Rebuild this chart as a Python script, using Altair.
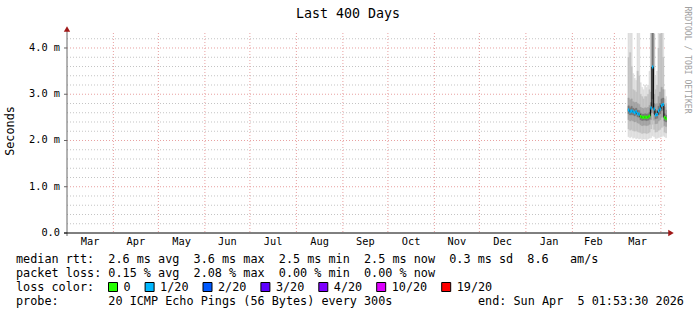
import altair as alt
import pandas as pd
from datetime import datetime, timezone

FONT = "DejaVu Sans Mono"
NB = "\u00a0"

# ---------------- data ----------------
title_text = "Last 400 Days"
unit_text = "Seconds"
watermark_text = "RRDTOOL / TOBI OETIKER"

range_start = "2025-03-01T01:53:30"
range_end = "2026-04-05T01:53:30"

month_starts = ["2025-03-01", "2025-04-01", "2025-05-01", "2025-06-01", "2025-07-01",
                "2025-08-01", "2025-09-01", "2025-10-01", "2025-11-01", "2025-12-01",
                "2026-01-01", "2026-02-01", "2026-03-01", "2026-04-01"]
month_names = ["Mar", "Apr", "May", "Jun", "Jul", "Aug", "Sep", "Oct", "Nov", "Dec",
               "Jan", "Feb", "Mar"]

days = ["2026-03-10", "2026-03-11", "2026-03-12", "2026-03-13", "2026-03-14", "2026-03-15",
        "2026-03-16", "2026-03-17", "2026-03-18", "2026-03-19", "2026-03-20", "2026-03-21",
        "2026-03-22", "2026-03-23", "2026-03-24", "2026-03-25", "2026-03-26", "2026-03-27",
        "2026-03-28", "2026-03-29", "2026-03-30", "2026-03-31", "2026-04-01", "2026-04-02",
        "2026-04-03", "2026-04-04"]
median = [2.66, 2.62, 2.64, 2.62, 2.60, 2.62, 2.58, 2.57, 2.52, 2.50, 2.50, 2.51, 2.50,
          2.51, 2.53, 2.70, 3.59, 2.68, 2.55, 2.56, 2.64, 2.68, 2.76, 2.78, 2.50, 2.47]
loss = ["1/20", "1/20", "1/20", "1/20", "1/20", "1/20", "1/20", "1/20", "0", "0", "0", "0", "0",
        "0", "0", "1/20", "1/20", "1/20", "1/20", "1/20", "1/20", "1/20", "1/20", "1/20", "0", "0"]
ping_min = [2.08, 2.06, 2.08, 2.05, 2.06, 2.04, 2.05, 2.03, 2.04, 2.02, 2.03, 2.03, 2.02,
            2.04, 2.05, 2.06, 2.10, 2.08, 2.04, 2.05, 2.06, 2.07, 2.08, 2.10, 2.08, 2.06]
ping_p10 = [2.25, 2.22, 2.24, 2.21, 2.20, 2.21, 2.19, 2.18, 2.17, 2.15, 2.16, 2.16, 2.15,
            2.16, 2.18, 2.25, 2.35, 2.24, 2.18, 2.19, 2.22, 2.24, 2.28, 2.30, 2.18, 2.16]
ping_p25 = [2.45, 2.42, 2.44, 2.42, 2.40, 2.41, 2.38, 2.37, 2.34, 2.32, 2.33, 2.33, 2.32,
            2.33, 2.35, 2.45, 2.60, 2.44, 2.36, 2.37, 2.42, 2.45, 2.50, 2.52, 2.32, 2.30]
ping_p40 = [2.58, 2.55, 2.56, 2.55, 2.53, 2.55, 2.51, 2.50, 2.45, 2.43, 2.44, 2.44, 2.43,
            2.44, 2.46, 2.60, 2.90, 2.58, 2.47, 2.48, 2.55, 2.58, 2.64, 2.66, 2.42, 2.40]
ping_p60 = [2.75, 2.71, 2.74, 2.70, 2.68, 2.70, 2.66, 2.65, 2.59, 2.57, 2.57, 2.58, 2.57,
            2.58, 2.61, 2.82, 4.40, 2.80, 2.64, 2.65, 2.74, 2.80, 2.90, 2.92, 2.58, 2.55]
ping_p75 = [2.92, 2.88, 2.90, 2.84, 2.82, 2.83, 2.80, 2.78, 2.72, 2.70, 2.69, 2.71, 2.70,
            2.72, 2.76, 3.05, 4.60, 3.00, 2.78, 2.80, 2.95, 3.05, 3.15, 3.10, 2.72, 2.66]
ping_p90 = [3.80, 3.90, 3.60, 3.10, 3.08, 3.05, 3.50, 3.40, 3.00, 2.95, 2.90, 2.95, 2.95,
            3.00, 3.10, 4.40, 4.60, 4.30, 3.10, 3.20, 4.00, 4.30, 4.40, 3.80, 2.90, 2.80]
ping_max = [4.60, 4.60, 4.60, 3.45, 3.35, 3.30, 4.60, 4.60, 3.25, 3.15, 3.10, 3.20, 3.15,
            3.20, 3.50, 4.60, 4.60, 4.60, 3.40, 3.50, 4.60, 4.60, 4.60, 4.60, 3.10, 2.95]

y_major = [0.0, 1.0, 2.0, 3.0, 4.0]
y_major_labels = ["0.0", "1.0 m", "2.0 m", "3.0 m", "4.0 m"]
y_minor = [0.2, 0.4, 0.6, 0.8, 1.2, 1.4, 1.6, 1.8, 2.2, 2.4, 2.6, 2.8, 3.2, 3.4, 3.6, 3.8, 4.2]

loss_levels = ["0", "1/20", "2/20", "3/20", "4/20", "10/20", "19/20"]
loss_colors = ["#26ff00", "#00b8ff", "#0059ff", "#5e00ff", "#7e00ff", "#dd00ff", "#ff0000"]

legend_rtt = "median rtt:  2.6 ms avg  3.6 ms max  2.5 ms min  2.5 ms now  0.3 ms sd  8.6   am/s"
legend_loss = "packet loss: 0.15 % avg  2.08 % max  0.00 % min  0.00 % now"
legend_color_head = "loss color:"
legend_probe = "probe:       20 ICMP Echo Pings (56 Bytes) every 300s"
legend_end = "end: Sun Apr  5 01:53:30 2026"

# ---------------- helpers ----------------
DAY = 86400000


def ms(s):
    if "T" not in s:
        s = s + "T00:00:00"
    return int(datetime.fromisoformat(s).replace(tzinfo=timezone.utc).timestamp() * 1000)


W, H = 600, 200
L, T = 67, 33  # plot origin in page pixels
xs = alt.Scale(type="utc", domain=[ms(range_start), ms(range_end)])
ys = alt.Scale(domain=[0, 4.324], nice=False, zero=False)

MAJOR_C = "#e8a0a0"
MINOR_C = "#c4c4c4"
DASH = [1, 2]

layers = []

# minor horizontal grid
layers.append(alt.Chart(pd.DataFrame({"v": y_minor})).mark_rule(
    color=MINOR_C, strokeDash=DASH, strokeWidth=1).encode(
    x=alt.value(0), x2=alt.value(W), y=alt.Y("v:Q", scale=ys, axis=None)))
# major horizontal grid
layers.append(alt.Chart(pd.DataFrame({"v": y_major[1:]})).mark_rule(
    color=MAJOR_C, strokeDash=DASH, strokeWidth=1).encode(
    x=alt.value(0), x2=alt.value(W), y=alt.Y("v:Q", scale=ys, axis=None)))
# y ticks and labels
ydf = pd.DataFrame({"v": y_major, "lab": y_major_labels})
layers.append(alt.Chart(ydf).mark_rule(color="#666", strokeWidth=1).encode(
    x=alt.value(-3), x2=alt.value(0), y=alt.Y("v:Q", scale=ys, axis=None)))
layers.append(alt.Chart(ydf).mark_text(font=FONT, fontSize=10.3, color="#000", align="right",
                                       baseline="middle").encode(
    x=alt.value(-7), y=alt.Y("v:Q", scale=ys, axis=None), text="lab:N"))
# month grid
mdf = pd.DataFrame({"t": [ms(m) for m in month_starts[1:]]})
layers.append(alt.Chart(mdf).mark_rule(color=MAJOR_C, strokeDash=DASH, strokeWidth=1).encode(
    x=alt.X("t:T", scale=xs, axis=None), y=alt.value(0), y2=alt.value(H)))

# smoke
t0 = [ms(d) for d in days]
t1 = [t + DAY for t in t0]
bands = [(ping_min, ping_max, "#dedede"), (ping_p10, ping_p90, "#c2c2c2"),
         (ping_p25, ping_p75, "#a2a2a2"), (ping_p40, ping_p60, "#787878")]
for lo, hi, col in bands:
    bdf = pd.DataFrame({"t0": t0, "t1": t1, "lo": lo, "hi": hi})
    layers.append(alt.Chart(bdf).mark_rect(clip=True, color=col, stroke=col, strokeWidth=0.3).encode(
        x=alt.X("t0:T", scale=xs, axis=None), x2="t1:T",
        y=alt.Y("lo:Q", scale=ys, axis=None), y2="hi:Q"))

# median
medf = pd.DataFrame({"t0": t0, "t1": t1, "med": median, "loss": loss})
layers.append(alt.Chart(medf).mark_line(color="#000", strokeWidth=1, interpolate="step-after",
                                        clip=True).encode(
    x=alt.X("t0:T", scale=xs, axis=None), y=alt.Y("med:Q", scale=ys, axis=None)))
layers.append(alt.Chart(medf).mark_rule(strokeWidth=3, clip=True).encode(
    x=alt.X("t0:T", scale=xs, axis=None), x2="t1:T",
    y=alt.Y("med:Q", scale=ys, axis=None),
    color=alt.Color("loss:N", scale=alt.Scale(domain=loss_levels, range=loss_colors), legend=None)))

# month labels
mids = [(ms(month_starts[i]) + ms(month_starts[i + 1])) / 2 for i in range(len(month_names))]
ldf = pd.DataFrame({"t": mids, "name": month_names})
layers.append(alt.Chart(ldf).mark_text(font=FONT, fontSize=10.3, color="#000",
                                       baseline="middle", align="center").encode(
    x=alt.X("t:T", scale=xs, axis=None), y=alt.value(242 - T), text="name:N"))

one = pd.DataFrame({"k": [0]})

# axes lines and arrows
layers.append(alt.Chart(one).mark_rule(color="#666", strokeWidth=1).encode(
    x=alt.value(0), y=alt.value(-4), y2=alt.value(H + 3)))
layers.append(alt.Chart(one).mark_rule(color="#000", strokeWidth=1).encode(
    x=alt.value(-3), x2=alt.value(W + 3), y=alt.value(H)))
layers.append(alt.Chart(one).mark_point(shape="triangle-up", filled=True, size=40,
                                        color="#a01818", opacity=1).encode(
    x=alt.value(0), y=alt.value(-4)))
layers.append(alt.Chart(one).mark_point(shape="triangle-right", filled=True, size=40,
                                        color="#a01818", opacity=1).encode(
    x=alt.value(W + 4), y=alt.value(H)))


def txt(s, x, y, size, align="left", angle=0, color="#000"):
    d = pd.DataFrame({"s": [s.replace(" ", NB)]})
    return alt.Chart(d).mark_text(font=FONT, fontSize=size, align=align, baseline="middle",
                                  angle=angle, color=color).encode(
        x=alt.value(x - L), y=alt.value(y - T), text="s:N")


LEG = 11.8
ADV = 7.1
layers.append(txt(title_text, 348, 14, 13.3, align="center"))
layers.append(txt(unit_text, 10, 131, LEG, align="center", angle=270))
layers.append(txt(watermark_text, 687, 60, 8.1, align="center", angle=90, color="#a0a0a0"))
layers.append(txt(legend_rtt, 16, 259, LEG))
layers.append(txt(legend_loss, 16, 273, LEG))
layers.append(txt(legend_color_head, 16, 287, LEG))
layers.append(txt(legend_probe, 16, 301, LEG))
layers.append(txt(legend_end, 478, 301, LEG))

# loss color legend boxes
lx = 123.5
for lab, col in zip(loss_levels, loss_colors):
    layers.append(alt.Chart(one).mark_rect(color=col, stroke="#000", strokeWidth=1).encode(
        x=alt.value(lx - 15 - L), x2=alt.value(lx - 6 - L),
        y=alt.value(282.5 - T), y2=alt.value(291.5 - T)))
    layers.append(txt(lab, lx, 287, LEG))
    lx += len(lab) * ADV + 29.5

chart = alt.layer(*layers).properties(
    width=W, height=H,
    padding={"left": L, "top": T, "right": 697 - L - W, "bottom": 315 - T - H},
    autosize=alt.AutoSizeParams(type="none"),
    background="#ffffff",
).configure_view(strokeWidth=0)

chart.save("out.html", embed_options={"renderer": "svg", "actions": False})
